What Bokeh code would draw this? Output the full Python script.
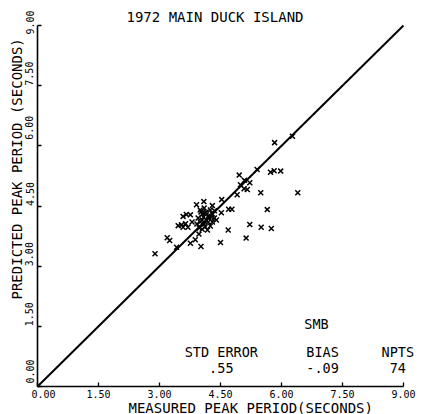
import math
from bokeh.plotting import figure
from bokeh.models import Range1d, FixedTicker, Label, ColumnDataSource
from bokeh.embed import file_html
from bokeh.resources import INLINE

# ---------------- data ----------------
title_text = "1972 MAIN DUCK ISLAND"
x_label_text = "MEASURED PEAK PERIOD(SECONDS)"
y_label_text = "PREDICTED PEAK PERIOD (SECONDS)"

tick_values = [0.0, 1.5, 3.0, 4.5, 6.0, 7.5, 9.0]
tick_labels = ["0.00", "1.50", "3.00", "4.50", "6.00", "7.50", "9.00"]

# measured (x) and predicted (y) peak periods, seconds
measured = [
    5.83, 6.27, 5.40, 5.73, 5.82, 5.98, 4.96, 5.09, 5.22, 4.99,
    5.16, 5.08, 4.91, 5.49, 6.40, 4.53, 4.70, 4.78, 4.52, 5.65,
    5.22, 5.50, 5.75, 4.69, 5.13, 4.50, 4.02, 3.76, 3.88, 3.97,
    3.42, 3.19, 3.25, 2.89, 3.58, 3.66, 3.76, 3.46, 3.54, 3.64,
    3.58, 3.70, 3.80, 3.91, 4.09, 4.30,
    4.00, 4.05, 4.10, 4.15, 4.20, 4.25, 4.30, 4.35, 3.95, 4.00,
    4.05, 4.10, 4.15, 4.20, 4.25, 4.30, 4.40, 3.98, 4.05, 4.12,
    4.18, 4.22, 4.08, 3.92, 4.35, 4.02, 4.28, 4.12,
]
predicted = [
    6.08, 6.24, 5.41, 5.34, 5.38, 5.37, 5.27, 5.14, 5.08, 5.03,
    4.91, 4.93, 4.78, 4.83, 4.83, 4.66, 4.42, 4.42, 4.33, 4.41,
    4.04, 3.97, 3.94, 3.90, 3.70, 3.59, 3.49, 3.57, 3.66, 3.80,
    3.47, 3.71, 3.64, 3.31, 4.24, 4.29, 4.28, 4.01, 4.03, 4.06,
    3.97, 3.97, 4.10, 4.53, 4.61, 4.51,
    4.40, 4.30, 4.45, 4.35, 4.25, 4.40, 4.30, 4.20, 4.20, 4.10,
    4.15, 4.05, 4.15, 4.10, 4.00, 4.10, 4.15, 3.95, 3.92, 3.98,
    3.90, 4.20, 4.22, 4.05, 4.38, 4.35, 4.22, 4.32,
]

# perfect-agreement line
line_x = [0.0, 9.0]
line_y = [0.0, 9.0]

stat_names = ["STD ERROR", "BIAS", "NPTS"]
stat_values = [".55", "-.09", "74"]
initials = "SMB"

# ---------------- layout / style ----------------
W, H = 426, 414
FONT = "DejaVu Sans Mono"
X0_PX, X9_PX = 37, 403      # pixel columns of x = 0 and x = 9
Y0_PX, Y9_PX = 386, 25      # pixel rows of y = 0 and y = 9
sx = (X9_PX - X0_PX) / 9.0
sy = (Y0_PX - Y9_PX) / 9.0

def dx(px):
    return (px - X0_PX) / sx

def dy(py):
    return (Y0_PX - py) / sy

NB = "\u00a0"
y_pad = [5, 4, 4, 4, 6, 4, 1]          # shifts rotated labels upward
x_pad = [2, 0, 0, 0, 0, 0, 0]

# frame fills the whole canvas; axes sit at x = 0 / y = 0
p = figure(width=W, height=H, output_backend="svg", toolbar_location=None,
           x_range=Range1d(dx(0), dx(W)), y_range=Range1d(dy(H), dy(0)),
           min_border=0)
p.outline_line_color = None
p.xgrid.grid_line_color = None
p.ygrid.grid_line_color = None
p.background_fill_color = "white"
p.border_fill_color = "white"

for ax in (p.xaxis[0], p.yaxis[0]):
    ax.fixed_location = 0
    ax.bounds = (0, 9)
    ax.ticker = FixedTicker(ticks=tick_values)
    ax.axis_line_color = "black"
    ax.axis_line_width = 1.6
    ax.major_tick_line_color = "black"
    ax.major_tick_line_width = 1.3
    ax.major_tick_in = 4
    ax.major_tick_out = 0
    ax.minor_tick_line_color = None
    ax.major_label_text_font = FONT
    ax.major_label_text_font_size = "10px"
    ax.major_label_text_color = "black"
    ax.major_label_standoff = 2

p.xaxis[0].major_label_overrides = {v: NB * n + t for v, t, n in zip(tick_values, tick_labels, x_pad)}
p.yaxis[0].major_label_overrides = {v: NB * n + t for v, t, n in zip(tick_values, tick_labels, y_pad)}
p.yaxis[0].major_label_orientation = "vertical"

p.line(line_x, line_y, line_color="black", line_width=2.0)

src = ColumnDataSource(dict(x=measured, y=predicted))
p.scatter("x", "y", source=src, marker="x", size=7,
          line_color="black", line_width=1.5)

def add_label(text, x, y, size="13.5px", align="center", angle=0.0):
    p.add_layout(Label(x=x, y=y, text=text, text_font=FONT,
                       text_font_size=size, text_color="black",
                       text_align=align, text_baseline="middle",
                       angle=angle))

add_label(title_text, dx(126), dy(16.5), size="14px", align="left")
add_label(x_label_text, dx(128), dy(407), size="14px", align="left")
add_label(y_label_text, dx(16), dy(299), size="14px", align="left",
          angle=math.pi / 2)

stat_x = [4.52, 7.01, 8.86]
for name, val, sxv in zip(stat_names, stat_values, stat_x):
    add_label(name, sxv, 0.85)
    add_label(val, sxv, 0.45)
add_label(initials, 6.86, 1.57)

open("out.html", "w").write(file_html(p, INLINE))
